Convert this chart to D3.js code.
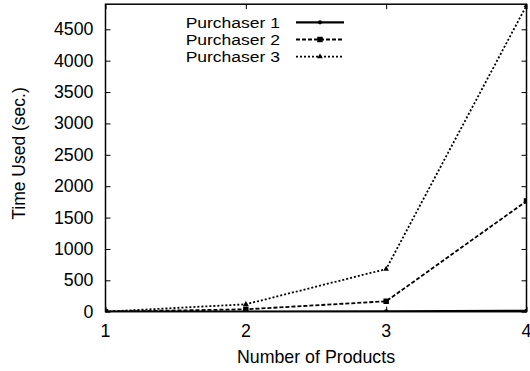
<!DOCTYPE html>
<html><head><meta charset="utf-8">
<script src="https://cdn.jsdelivr.net/npm/d3@7"></script>
<style>body{margin:0;background:#fff}svg{display:block}text{font-family:"Liberation Sans",Arial,sans-serif;fill:#000}</style>
</head><body><svg id="c" width="530" height="371"></svg>
<script>
const categories = [1, 2, 3, 4];
const seriesNames = ["Purchaser 1", "Purchaser 2", "Purchaser 3"];
const purchaser1 = [1, 2, 5, 15];
const purchaser2 = [1, 38, 166, 1763];
const purchaser3 = [1, 118, 680, 4880];
const yTicks = [0, 500, 1000, 1500, 2000, 2500, 3000, 3500, 4000, 4500];
const xTitle = "Number of Products";
const yTitle = "Time Used (sec.)";

const svg = d3.select("#c");
const L = 105.5, R = 526.5, T = 4.2, B = 311.7;
const x = d3.scaleLinear().domain([1, 4]).range([L, R]);
const y = d3.scaleLinear().domain([0, 4900]).range([B, T]);
const FS = 17.8;

function stext(g, px, py, str, anchor, baseline) {
  return g.append("text").attr("x", px).attr("y", py)
    .attr("text-anchor", anchor).attr("dominant-baseline", baseline || "auto")
    .attr("font-size", FS).text(str);
}

svg.append("defs").append("clipPath").attr("id", "clip")
  .append("rect").attr("x", L).attr("y", T).attr("width", R - L).attr("height", B - T);

const axL = d3.axisLeft(y).tickValues(yTicks).tickSize(-5).tickFormat("");
const axR = d3.axisRight(y).tickValues(yTicks).tickSize(-5).tickFormat("");
const axB = d3.axisBottom(x).tickValues(categories).tickSize(-5).tickFormat("");
const axT = d3.axisTop(x).tickValues(categories).tickSize(-5).tickFormat("");
[[axL, `translate(${L},0)`], [axR, `translate(${R},0)`], [axB, `translate(0,${B})`], [axT, `translate(0,${T})`]]
  .forEach(([a, tr]) => {
    const g = svg.append("g").attr("transform", tr).call(a);
    g.select(".domain").remove();
    g.selectAll("line").attr("stroke", "#000").attr("stroke-width", 1);
  });

svg.append("rect").attr("x", L).attr("y", T).attr("width", R - L).attr("height", B - T)
  .attr("fill", "none").attr("stroke", "#000").attr("stroke-width", 1.5);

const lab = svg.append("g");
yTicks.forEach(v => stext(lab, 93.5, y(v), String(v), "end", "central"));
categories.forEach(v => stext(lab, x(v), 337, String(v), "middle"));
stext(lab, 316, 363, xTitle, "middle");
svg.append("text").attr("transform", `translate(25,153.5) rotate(-90)`)
  .attr("text-anchor", "middle").attr("font-size", 17.5).text(yTitle);

const styles = [
  {vals: purchaser1, dash: null, w: 2.2, marker: "circle"},
  {vals: purchaser2, dash: "4,2", w: 1.8, marker: "square"},
  {vals: purchaser3, dash: "2,2", w: 1.8, marker: "triangle"}
];
const line = d3.line().x((d, i) => x(categories[i])).y(d => y(d));
const plot = svg.append("g").attr("clip-path", "url(#clip)");
const symGen = {
  circle: d3.symbol().type(d3.symbolCircle).size(14),
  square: d3.symbol().type(d3.symbolSquare).size(30),
  triangle: d3.symbol().type(d3.symbolTriangle).size(14)
};
function drawSeries(g, s) {
  g.append("path").datum(s.vals).attr("d", line).attr("fill", "none")
    .attr("stroke", "#000").attr("stroke-width", s.w)
    .attr("stroke-dasharray", s.dash);
  g.selectAll(null).data(s.vals).enter().append("path")
    .attr("d", symGen[s.marker]).attr("fill", "#000")
    .attr("transform", (d, i) => `translate(${x(categories[i])},${y(d)})`);
}
[2, 1, 0].forEach(i => drawSeries(plot, styles[i]));

const leg = svg.append("g");
styles.forEach((s, i) => {
  const ly = 22.3 + i * 17.2;
  leg.append("text").attr("transform", `translate(280,${ly}) scale(1.2,1)`)
    .attr("text-anchor", "end").attr("dominant-baseline", "central")
    .attr("font-size", 14.6).text(seriesNames[i]);
  leg.append("line").attr("x1", 296).attr("x2", 344).attr("y1", ly).attr("y2", ly)
    .attr("stroke", "#000").attr("stroke-width", s.w).attr("stroke-dasharray", s.dash);
  leg.append("path").attr("d", symGen[s.marker]).attr("fill", "#000")
    .attr("transform", `translate(320,${ly})`);
});
</script></body></html>
